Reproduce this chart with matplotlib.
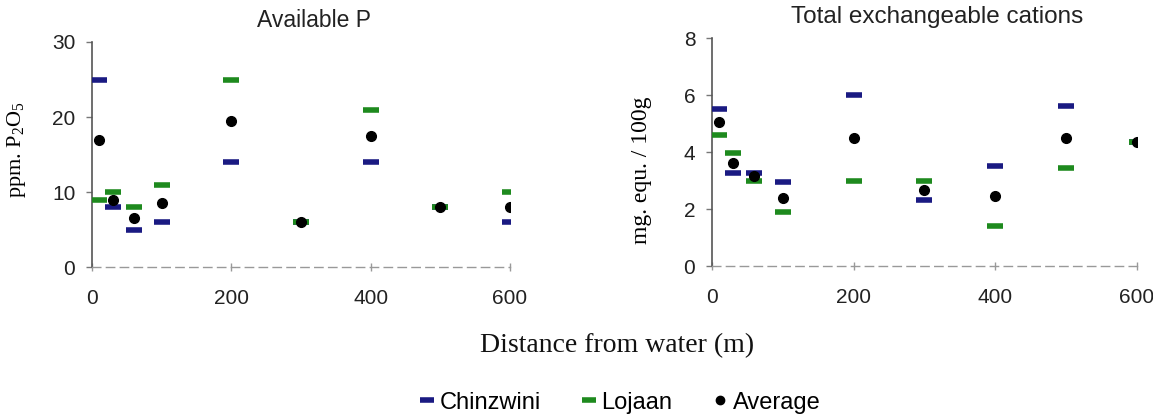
import matplotlib
matplotlib.use("Agg")
import matplotlib.pyplot as plt
from matplotlib.lines import Line2D

# distances from water (m)
distance = [10, 30, 60, 100, 200, 300, 400, 500, 600]

# Available P (ppm P2O5)
p_chinzwini = [25, 8, 5, 6, 14, 6, 14, 8, 6]
p_lojaan = [9, 10, 8, 11, 25, 6, 21, 8, 10]
p_average = [17, 9, 6.5, 8.5, 19.5, 6, 17.5, 8, 8]

# Total exchangeable cations (mg equ / 100g)
c_chinzwini = [5.5, 3.25, 3.25, 2.95, 6.0, 2.3, 3.5, 5.6, 4.35]
c_lojaan = [4.6, 3.95, 3.0, 1.9, 3.0, 3.0, 1.4, 3.45, 4.35]
c_average = [5.05, 3.6, 3.15, 2.4, 4.5, 2.65, 2.45, 4.5, 4.35]

BLUE = '#1a1a82'
GREEN = '#1e8a1e'
SANS = 'Liberation Sans'
SERIF = 'Liberation Serif'

plt.rcParams['mathtext.fontset'] = 'custom'
plt.rcParams['mathtext.rm'] = SERIF
plt.rcParams['mathtext.it'] = SERIF

fig = plt.figure(figsize=(11.53, 4.15), dpi=100)
ax1 = fig.add_axes([0.0798, 0.3566, 0.3625, 0.5422])
ax2 = fig.add_axes([0.6175, 0.3590, 0.3686, 0.5494])


def draw_panel(ax, chin, loj, avg, ymax, yticks, title, title_size):
    ax.plot(distance, chin, linestyle='none', marker='_', markersize=12,
            markeredgewidth=4, color=BLUE, zorder=3)
    ax.plot(distance, loj, linestyle='none', marker='_', markersize=12,
            markeredgewidth=4, color=GREEN, zorder=3)
    ax.plot(distance, avg, linestyle='none', marker='o', markersize=7,
            color='black', zorder=4)
    ax.set_xlim(0, 600)
    ax.set_ylim(0, ymax)
    ax.set_xticks([0, 200, 400, 600])
    ax.set_yticks(yticks)
    for s in ['top', 'right']:
        ax.spines[s].set_visible(False)
    ax.spines['left'].set_color('#555555')
    ax.spines['left'].set_linewidth(1.2)
    ax.spines['bottom'].set_color('#999999')
    ax.spines['bottom'].set_linestyle((0, (6, 4)))
    ax.spines['bottom'].set_linewidth(1.0)
    ax.tick_params(axis='y', direction='out', length=4, width=1,
                   color='#777777', pad=8, labelsize=15)
    ax.tick_params(axis='x', direction='inout', length=6, width=1,
                   color='#999999', pad=13, labelsize=15)
    for lab in ax.get_xticklabels() + ax.get_yticklabels():
        lab.set_fontfamily(SANS)
        lab.set_color('#222222')
    ax.set_title(title, fontsize=title_size, fontfamily=SANS, color='#222222', pad=11)
    ax.title.set_position((0.53, 1.0))


draw_panel(ax1, p_chinzwini, p_lojaan, p_average, 30, [0, 10, 20, 30],
           'Available P', 16.5)
draw_panel(ax2, c_chinzwini, c_lojaan, c_average, 8, [0, 2, 4, 6, 8],
           'Total exchangeable cations', 17.5)

ax1.set_ylabel('ppm. P$_2$O$_5$', fontsize=16, fontfamily=SERIF)
ax1.yaxis.set_label_coords(-0.152, 0.52)
ax2.set_ylabel('mg. equ. / 100g', fontsize=17, fontfamily=SERIF)
ax2.yaxis.set_label_coords(-0.142, 0.42)

fig.text(0.535, 0.168, 'Distance from water (m)', ha='center', va='center',
         fontsize=20, fontfamily=SERIF, color='#111111')

handles = [
    Line2D([], [], linestyle='none', marker='_', markersize=10, markeredgewidth=4, color=BLUE),
    Line2D([], [], linestyle='none', marker='_', markersize=10, markeredgewidth=4, color=GREEN),
    Line2D([], [], linestyle='none', marker='o', markersize=6, color='black'),
]
fig.legend(handles, ['Chinzwini', 'Lojaan', 'Average'], loc='center',
           bbox_to_anchor=(0.538, 0.03), ncol=3, frameon=False,
           prop={'family': SANS, 'size': 17}, handlelength=0.6,
           handletextpad=0.25, columnspacing=1.7)

fig.savefig('out.png', dpi=100)
